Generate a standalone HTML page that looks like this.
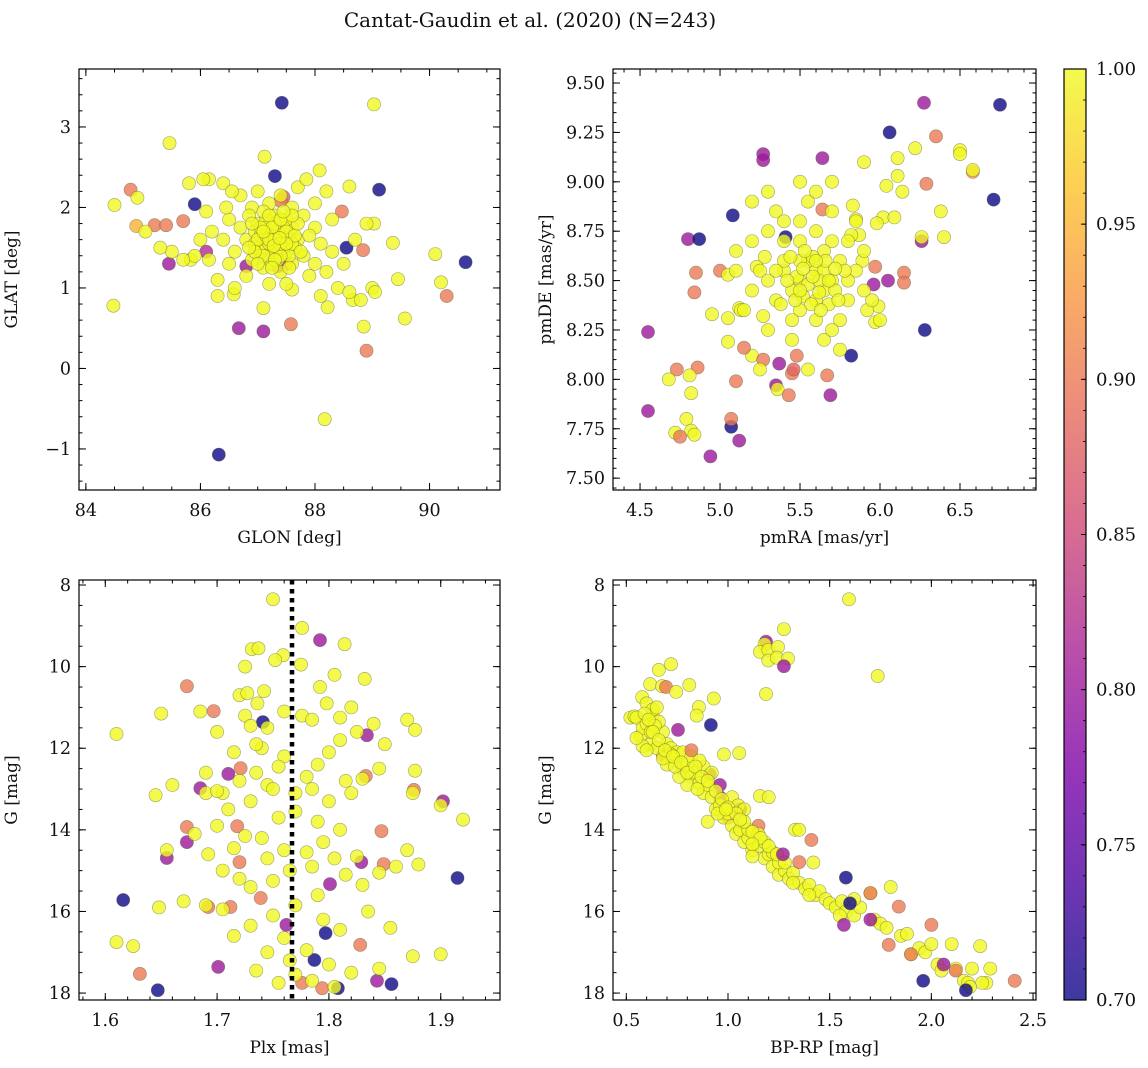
<!DOCTYPE html>
<html><head><meta charset="utf-8"><style>
html,body{margin:0;padding:0;background:#fff;}
svg{display:block;font-family:"DejaVu Serif","Liberation Serif",serif;}
</style></head><body>
<svg id="fig" width="1148" height="1068" viewBox="0 0 1148 1068" xmlns="http://www.w3.org/2000/svg">
<defs>
<linearGradient id="plasma" x1="0" y1="1" x2="0" y2="0">
<stop offset="0" stop-color="#0d0887"/><stop offset="0.125" stop-color="#4c02a1"/><stop offset="0.25" stop-color="#7e03a8"/><stop offset="0.375" stop-color="#a92395"/><stop offset="0.5" stop-color="#cc4778"/><stop offset="0.625" stop-color="#e56b5d"/><stop offset="0.75" stop-color="#f89441"/><stop offset="0.875" stop-color="#fdc328"/><stop offset="1" stop-color="#f0f921"/>
</linearGradient>
</defs>
<text x="530" y="27" font-size="20" text-anchor="middle" fill="#111">Cantat-Gaudin et al. (2020) (N=243)</text>
<g id="panels"></g>
<g>
<rect x="1064" y="69" width="22" height="931" fill="url(#plasma)" fill-opacity="0.8"/>
<rect x="1064" y="69" width="22" height="931" fill="none" stroke="#000" stroke-width="1.2"/>
<g id="cbticks"></g>
</g>
</svg>
<script>
// ---- data: [x, y, membership probability] ----
const p1Data = [
[87.42,3.30,.7],[89.03,3.28,1],[85.46,2.80,1],[84.78,2.22,.9],[89.12,2.22,.7],[84.9,2.12,1],[84.5,2.03,1],
[84.88,1.77,.95],[85.2,1.78,.9],[85.4,1.78,.9],[85.7,1.83,.9],[85.9,2.04,.7],[87.3,2.39,.7],[85.45,1.3,.8],
[84.48,0.78,1],[86.67,0.5,.8],[87.1,0.46,.8],[87.58,0.55,.9],[88.17,-0.63,1],[86.32,-1.07,.7],[88.9,0.22,.9],
[90.63,1.32,.7],[90.3,0.9,.9],[90.1,1.42,1],[90.2,1.07,1],[89.57,0.62,1],[89.0,1.0,1],[89.05,0.95,1],[88.85,0.52,1],
[88.84,1.47,.9],[88.55,1.5,.7],[88.47,1.95,.9],[88.6,2.26,1],[88.08,2.46,1],[89.03,1.8,1],[89.36,1.56,1],[89.45,1.11,1],
[88.66,0.85,1],[88.22,0.76,1],[88.1,0.9,1],[87.12,2.63,1],[86.15,2.35,1],[87.6,0.98,1],[87.1,0.75,1],[86.58,0.92,1],
[85.83,1.35,1],[85.04,1.7,1],[87.45,2.13,.87],[87.35,1.27,.8],[86.8,1.27,.8],[86.1,1.45,.82],[87.4,2.08,.9],[87.5,1.3,.82],
[87.0,1.5,1],[87.1,1.6,1],[87.2,1.7,1],[87.3,1.55,1],[87.4,1.65,1],[87.5,1.45,1],[87.6,1.75,1],[87.2,1.4,1],[87.0,1.8,1],
[86.9,1.35,1],[87.3,1.9,1],[87.5,1.85,1],[87.7,1.6,1],[87.8,1.4,1],[87.1,1.25,1],[87.4,1.2,1],[87.6,1.3,1],[86.8,1.6,1],
[86.7,1.75,1],[86.6,1.45,1],[86.9,2.0,1],[87.2,2.05,1],[87.6,2.0,1],[87.8,1.9,1],[88.0,1.75,1],[88.1,1.55,1],[88.0,1.3,1],
[87.9,1.15,1],[87.5,1.05,1],[87.2,1.05,1],[86.8,1.15,1],[86.5,1.3,1],[86.4,1.6,1],[86.5,1.85,1],[86.7,2.15,1],[87.0,2.2,1],
[87.4,2.15,1],[87.7,2.25,1],[88.0,2.05,1],[88.3,1.85,1],[88.3,1.45,1],[88.2,1.2,1],[88.4,1.0,1],[86.3,1.1,1],[86.2,1.7,1],
[86.1,1.95,1],[86.6,1.0,1],[86.3,0.9,1],[88.5,1.3,1],[88.7,1.6,1],[88.9,1.8,1],[87.05,1.45,1],[87.15,1.85,1],[87.35,1.35,1],
[87.45,1.75,1],[87.25,1.6,1],[86.95,1.7,1],[87.55,1.6,1],[87.65,1.5,1],[87.1,1.95,1],[86.85,1.9,1],[87.9,1.65,1],[86.4,2.3,1],
[85.9,1.4,1],[85.7,1.35,1],[86.0,1.6,1],[88.6,0.95,1],[88.8,0.85,1],[85.5,1.45,1],[85.3,1.5,1],[86.55,2.2,1],[86.45,2.0,1],
[87.85,2.35,1],[88.2,2.2,1],[85.8,2.3,1],[86.15,1.35,1],[86.05,2.35,1],[87.25,1.3,1],[87.45,1.5,1],[86.95,1.55,1],[87.15,1.75,1],
[87.05,1.65,1],[87.15,1.5,1],[87.25,1.45,1],[87.35,1.7,1],[87.3,1.8,1],[87.2,1.9,1],[87.45,1.6,1],[87.5,1.7,1],[87.55,1.4,1],
[87.35,1.5,1],[87.2,1.55,1],[87.1,1.4,1],[87.0,1.6,1],[86.95,1.45,1],[87.4,1.4,1],[87.3,1.35,1],[87.6,1.55,1],[87.65,1.65,1],
[87.15,1.65,1],[87.25,1.75,1],[87.4,1.85,1],[87.05,1.75,1],[87.3,1.6,1],[87.2,1.6,1],[87.4,1.55,1],[87.5,1.55,1],[87.1,1.7,1],
[86.9,1.8,1],[87.7,1.8,1],[87.6,1.9,1],[87.0,1.3,1],[87.75,1.45,1],[86.85,1.5,1],[87.25,1.25,1],[87.45,1.95,1],[87.55,1.25,1],
[87.28,1.52,1],[87.38,1.62,1]
];
const p2Data = [
[6.275,9.40,.8],[6.75,9.39,.7],[6.06,9.25,.7],[6.35,9.23,.9],[6.22,9.17,1],[6.5,9.16,1],[6.5,9.14,1],[6.58,9.05,.93],[6.58,9.06,1],
[6.71,8.91,.7],[6.29,8.99,.9],[5.90,9.10,1],[6.11,9.12,1],[6.11,9.03,1],[6.04,8.98,1],[6.14,8.95,1],[6.38,8.85,1],[6.40,8.72,1],
[6.26,8.70,.8],[6.26,8.72,1],[6.02,8.82,1],[5.98,8.79,1],[6.09,8.82,1],[5.83,8.88,1],[5.85,8.81,1],[5.87,8.73,1],[5.82,8.73,1],
[5.97,8.57,.9],[5.96,8.48,.8],[6.05,8.50,.8],[6.15,8.54,.9],[6.15,8.49,.9],[5.99,8.37,1],[5.92,8.35,1],[5.97,8.29,1],[6.28,8.25,.7],
[5.82,8.12,.7],[5.89,8.60,1],[5.64,9.12,.8],[5.64,8.86,.9],[5.27,9.14,.8],[5.27,9.11,.8],
[4.55,8.24,.8],[4.55,7.84,.8],[4.73,8.05,.9],[4.86,8.06,.9],[4.68,8.0,1],[4.81,8.02,1],[4.82,7.93,1],[4.79,7.8,1],[4.82,7.74,1],
[4.72,7.73,1],[4.84,7.72,1],[4.75,7.71,.9],[4.94,7.61,.8],[5.07,7.76,.7],[5.07,7.8,.9],[5.12,7.69,.8],[5.1,7.99,.9],[5.0,8.55,.9],
[5.05,8.53,1],[4.95,8.33,1],[5.05,8.31,1],[5.05,8.19,1],[5.12,8.36,1],[5.13,8.35,1],[5.2,8.12,1],[5.27,8.32,1],[5.23,8.57,1],
[5.15,8.16,.9],[5.27,8.1,.9],[5.45,8.03,.9],[5.37,8.08,.8],[5.35,7.97,.8],[5.36,7.95,1],[5.46,8.05,.88],[4.8,8.71,.8],[4.87,8.71,.7],
[5.08,8.83,.7],[4.85,8.54,.9],[4.84,8.44,.9],[5.41,8.72,.7],[5.67,8.02,.9],[5.69,7.92,.8],[5.43,7.92,.9],[5.48,8.12,.9],
[5.5,8.5,1],[5.6,8.55,1],[5.7,8.5,1],[5.55,8.6,1],[5.65,8.45,1],[5.45,8.45,1],[5.75,8.6,1],[5.4,8.55,1],[5.35,8.4,1],[5.5,8.35,1],
[5.6,8.3,1],[5.8,8.4,1],[5.85,8.55,1],[5.9,8.65,1],[5.7,8.7,1],[5.6,8.75,1],[5.5,8.7,1],[5.4,8.7,1],[5.3,8.75,1],[5.25,8.55,1],
[5.2,8.45,1],[5.15,8.35,1],[5.3,8.25,1],[5.45,8.2,1],[5.65,8.2,1],[5.75,8.3,1],[5.95,8.4,1],[6.0,8.3,1],[5.85,8.8,1],[5.7,8.85,1],
[5.55,8.9,1],[5.35,8.85,1],[5.2,8.7,1],[5.1,8.55,1],[5.4,8.6,1],[5.5,8.6,1],[5.65,8.65,1],[5.8,8.5,1],[5.3,8.5,1],[5.6,8.4,1],
[5.45,8.3,1],[5.2,8.9,1],[5.3,8.95,1],[5.5,8.8,1],[5.5,9.0,1],[5.6,8.95,1],[5.7,9.0,1],[5.4,8.8,1],[5.8,8.7,1],[5.9,8.45,1],
[5.65,8.55,1],[5.55,8.48,1],[5.48,8.52,1],[5.58,8.62,1],[5.68,8.38,1],[5.38,8.38,1],[5.28,8.62,1],[5.75,8.15,1],[5.7,8.25,1],
[5.55,8.05,1],[5.25,8.05,1],[5.1,8.65,1],[5.72,8.45,1],[5.62,8.5,1],[5.52,8.42,1],[5.42,8.5,1],[5.78,8.55,1],
[5.58,8.52,1],[5.62,8.44,1],[5.66,8.6,1],[5.52,8.56,1],[5.47,8.4,1],[5.57,8.38,1],[5.72,8.56,1],[5.63,8.35,1],[5.53,8.65,1],
[5.44,8.62,1],[5.35,8.55,1],[5.68,8.5,1],[5.74,8.4,1],[5.6,8.6,1],[5.5,8.45,1]
];
const p3Data = [
[1.616,15.72,.7],[1.647,17.93,.7],[1.741,11.36,.7],[1.787,17.19,.7],[1.808,17.88,.7],[1.856,17.78,.7],[1.915,15.18,.7],[1.797,16.53,.7],
[1.792,9.35,.8],[1.834,11.68,.8],[1.710,12.63,.8],[1.685,12.98,.8],[1.673,14.3,.8],[1.655,14.69,.8],[1.701,17.36,.8],[1.902,13.3,.8],
[1.829,14.79,.8],[1.801,15.33,.8],[1.762,16.33,.8],[1.843,17.7,.8],
[1.673,10.48,.9],[1.697,11.09,.9],[1.673,13.93,.9],[1.721,12.49,.9],[1.718,13.91,.9],[1.72,14.79,.9],[1.692,15.89,.9],[1.712,15.89,.9],
[1.739,15.67,.9],[1.847,14.03,.9],[1.828,16.82,.9],[1.833,12.68,.9],[1.849,14.84,.9],[1.631,17.53,.9],[1.776,17.75,.9],[1.794,17.88,.9],[1.876,13.02,.9],
[1.75,8.35,1],[1.776,9.05,1],[1.814,9.45,1],[1.731,9.57,1],[1.737,9.55,1],[1.759,9.72,1],[1.752,9.84,1],[1.725,10.0,1],[1.775,9.95,1],
[1.805,10.2,1],[1.792,10.5,1],[1.798,10.9,1],[1.776,11.2,1],[1.72,10.7,1],[1.727,10.65,1],[1.742,10.6,1],[1.736,10.9,1],[1.61,11.65,1],
[1.65,11.15,1],[1.685,11.1,1],[1.725,11.2,1],[1.73,11.45,1],[1.745,11.5,1],[1.76,11.1,1],[1.785,11.3,1],[1.81,11.25,1],[1.82,11.0,1],
[1.832,10.3,1],[1.825,11.6,1],[1.84,11.4,1],[1.85,11.9,1],[1.87,11.3,1],[1.877,11.55,1],[1.81,11.8,1],[1.8,12.1,1],[1.79,12.4,1],
[1.78,12.7,1],[1.76,12.2,1],[1.74,12.0,1],[1.755,12.45,1],[1.735,12.6,1],[1.745,12.9,1],[1.72,12.8,1],[1.705,13.1,1],[1.69,13.1,1],
[1.66,12.9,1],[1.645,13.15,1],[1.7,13.05,1],[1.73,13.3,1],[1.75,13.0,1],[1.77,13.1,1],[1.785,13.0,1],[1.8,13.3,1],[1.82,13.1,1],
[1.815,12.8,1],[1.83,12.75,1],[1.845,12.5,1],[1.877,12.55,1],[1.9,13.4,1],[1.875,13.1,1],[1.71,13.5,1],[1.7,13.9,1],[1.725,14.15,1],
[1.74,14.2,1],[1.755,13.7,1],[1.77,13.55,1],[1.79,13.8,1],[1.81,14.0,1],[1.795,14.3,1],[1.78,14.55,1],[1.76,14.5,1],[1.745,14.7,1],
[1.715,14.45,1],[1.655,14.5,1],[1.692,14.6,1],[1.705,15.0,1],[1.72,15.2,1],[1.73,15.4,1],[1.75,15.25,1],[1.765,15.0,1],[1.785,14.9,1],
[1.805,14.7,1],[1.825,14.65,1],[1.815,15.1,1],[1.83,15.35,1],[1.845,15.05,1],[1.86,14.9,1],[1.87,14.5,1],[1.88,14.85,1],[1.92,13.75,1],
[1.79,15.6,1],[1.77,15.85,1],[1.75,16.1,1],[1.73,16.35,1],[1.715,16.6,1],[1.705,15.95,1],[1.69,15.85,1],[1.67,15.75,1],[1.648,15.9,1],
[1.61,16.75,1],[1.625,16.85,1],[1.795,16.2,1],[1.81,16.45,1],[1.835,16.0,1],[1.855,16.4,1],[1.875,17.1,1],[1.9,17.05,1],[1.76,16.65,1],
[1.745,17.0,1],[1.735,17.45,1],[1.765,17.2,1],[1.78,16.95,1],[1.8,17.3,1],[1.82,17.5,1],[1.845,17.4,1],[1.755,17.75,1],[1.785,17.7,1],
[1.805,17.85,1],[1.77,17.55,1],[1.69,12.6,1],[1.68,14.1,1],[1.7,11.6,1],[1.715,12.1,1],[1.735,11.9,1]
];
const p4Data = [
[1.595,8.35,1],[1.275,9.08,1],[1.187,9.39,.8],[1.18,9.45,1],[1.157,9.64,1],[1.198,9.59,1],[1.246,9.52,1],[1.198,9.85,1],[1.24,9.78,1],
[1.295,9.8,1],[1.275,9.99,.8],[1.736,10.23,1],[1.187,10.67,1],[0.916,11.43,.7],[0.754,11.55,.8],[1.055,12.12,1],[1.157,13.17,1],[1.33,14.0,1],
[0.72,9.94,1],[0.66,10.08,1],[0.617,10.43,1],[0.676,10.48,1],[0.695,10.5,.9],[0.81,10.45,1],[0.745,10.62,1],[0.578,10.75,1],[0.93,10.78,1],
[0.857,10.99,1],[0.846,11.2,1],[0.52,11.25,1],[0.54,11.22,1],[0.68,12.17,.9],[0.91,12.64,.8],[0.96,12.9,.8],[0.96,13.2,.8],[1.06,13.5,.8],
[1.0,13.7,.9],[1.15,13.9,.9],[1.41,14.25,.9],
[0.55,11.25,1],[0.57,11.7,1],[0.58,11.5,1],[0.6,11.4,1],[0.62,11.9,1],[0.63,11.2,1],[0.6,10.9,1],[0.63,11.05,1],[0.65,11.0,1],
[0.68,11.6,1],[0.7,11.9,1],[0.72,12.0,1],[0.74,12.3,1],[0.75,12.1,1],[0.78,12.5,1],[0.8,12.4,1],[0.82,12.7,1],[0.8,12.9,1],[0.84,12.6,1],
[0.86,12.85,1],[0.88,13.1,1],[0.9,12.9,1],[0.92,13.2,1],[0.94,13.5,1],[0.96,13.4,1],[0.98,13.7,1],[1.0,13.6,1],[1.02,13.9,1],[1.04,14.1,1],
[1.06,14.0,1],[1.08,14.3,1],[1.1,14.2,1],[1.12,14.5,1],[1.15,14.4,1],[1.18,14.7,1],[1.2,14.6,1],[1.22,14.9,1],[1.25,15.1,1],[1.28,15.0,1],
[1.3,15.2,1],[1.32,15.05,1],[1.35,15.3,1],[1.38,15.45,1],[1.4,15.35,1],[1.43,15.6,1],[1.45,15.5,1],[1.48,15.7,1],[1.5,15.8,1],[1.53,15.9,1],
[1.56,15.75,1],[1.58,16.0,1],[1.62,16.1,1],[1.65,15.9,1],[1.7,15.55,1],[1.72,16.2,1],[1.75,16.3,1],[1.78,16.4,1],[1.8,15.4,1],[1.85,16.6,1],
[1.88,16.55,1],[1.9,17.05,1],[1.94,16.9,1],[1.97,17.0,1],[2.0,16.8,1],[2.03,17.3,1],[2.05,17.45,1],[2.1,16.8,1],[2.12,17.4,1],[2.16,17.7,1],
[2.18,17.75,1],[2.2,17.4,1],[2.24,16.85,1],[2.27,17.75,1],[2.29,17.4,1],[2.25,17.75,1],[2.19,17.85,1],[0.72,12.15,1],[0.7,12.4,1],[0.65,12.0,1],
[0.58,11.95,1],[0.68,12.25,1],[0.76,12.7,1],[0.85,13.0,1],[0.9,13.8,1],[0.95,13.6,1],[1.02,13.2,1],[1.05,13.4,1],[1.1,14.0,1],[1.15,14.1,1],
[1.2,13.2,1],[1.25,14.8,1],[1.35,14.0,1],[1.42,14.8,1],[1.22,14.55,1],[1.32,15.3,1],[1.4,15.6,1],[1.55,16.1,1],[1.62,15.7,1],[0.98,12.15,1],
[0.6,12.05,1],[0.55,11.75,1],[0.66,11.35,1],[0.78,12.1,1],[0.82,12.2,1],[0.88,12.45,1],[0.92,12.6,1],[1.08,13.5,1],[1.12,14.65,1],[1.18,14.3,1],
[0.62,11.6,1],[0.64,11.45,1],[0.59,11.15,1],[0.74,12.45,1],[0.86,12.3,1],
[0.61,11.3,1],[0.63,11.6,1],[0.66,11.8,1],[0.69,12.05,1],[0.73,12.2,1],[0.77,12.35,1],[0.8,12.6,1],[0.84,12.45,1],[0.87,12.7,1],[0.9,12.8,1],
[0.94,13.05,1],[0.97,13.25,1],[1.0,13.45,1],[1.04,13.6,1],[1.08,13.8,1],[1.12,14.05,1],[1.16,14.2,1],[1.2,14.4,1],[1.24,14.6,1],[1.28,14.8,1],
[1.12,14.35,1],[1.06,13.75,1],[0.99,13.5,1],
[1.58,15.17,.7],[1.6,15.8,.7],[1.96,17.7,.7],[2.17,17.93,.7],[1.57,16.33,.8],[1.7,16.2,.8],[2.06,17.3,.8],[1.27,14.6,.8],
[1.35,14.79,.9],[1.7,15.55,.9],[1.79,16.82,.9],[1.84,15.88,.9],[2.0,16.33,.9],[2.41,17.7,.9],[2.12,17.45,.9],[1.9,17.05,.9],[0.82,12.05,.9]
];
const p1XTicks = [84,86,88,90], p1YTicks = [-1,0,1,2,3];
const p2XTicks = [4.5,5.0,5.5,6.0,6.5], p2YTicks = [7.5,7.75,8.0,8.25,8.5,8.75,9.0,9.25,9.5];
const p3XTicks = [1.6,1.7,1.8,1.9], p34YTicks = [8,10,12,14,16,18];
const p4XTicks = [0.5,1.0,1.5,2.0,2.5];
const cbTicks = [0.70,0.75,0.80,0.85,0.90,0.95,1.00];
const plxLine = 1.767;

const NS='http://www.w3.org/2000/svg';
function mk(tag, attrs, parent){const e=document.createElementNS(NS,tag);for(const k in attrs)e.setAttribute(k,attrs[k]);parent.appendChild(e);return e;}
const stops=[[0,[13,8,135]],[.125,[76,2,161]],[.25,[126,3,168]],[.375,[169,35,149]],[.5,[204,71,120]],[.625,[229,107,93]],[.75,[248,148,65]],[.875,[253,195,40]],[1,[240,249,33]]];
function plasma(t){t=Math.max(0,Math.min(1,t));for(let i=1;i<stops.length;i++){if(t<=stops[i][0]){const a=stops[i-1],b=stops[i],f=(t-a[0])/(b[0]-a[0]);return 'rgb('+a[1].map((v,j)=>Math.round(v+(b[1][j]-v)*f)).join(',')+')';}}return 'rgb(240,249,33)';}

const panels=[
 {name:'glon-glat',x0:79,x1:500,y0:69,y1:490,xd:[83.88,91.23],yd:[-1.51,3.72],xt:p1XTicks,yt:p1YTicks,xm:0.5,ym:0.2,xf:v=>v.toFixed(0),yf:v=>v<0?'\u2212'+Math.abs(v):String(v),xl:'GLON [deg]',yl:'GLAT [deg]',data:p1Data,inv:false},
 {name:'pmra-pmde',x0:613,x1:1036,y0:69,y1:490,xd:[4.331,6.975],yd:[7.44,9.571],xt:p2XTicks,yt:p2YTicks,xm:0.1,ym:0.05,xf:v=>v.toFixed(1),yf:v=>v.toFixed(2),xl:'pmRA [mas/yr]',yl:'pmDE [mas/yr]',data:p2Data,inv:false},
 {name:'plx-g',x0:79,x1:500,y0:580,y1:1000,xd:[1.5765,1.953],yd:[7.877,18.17],xt:p3XTicks,yt:p34YTicks,xm:0.02,ym:0.5,xf:v=>v.toFixed(1),yf:v=>String(v),xl:'Plx [mas]',yl:'G [mag]',data:p3Data,inv:true},
 {name:'bprp-g',x0:613,x1:1036,y0:580,y1:1000,xd:[0.4346,2.5145],yd:[7.877,18.17],xt:p4XTicks,yt:p34YTicks,xm:0.1,ym:0.5,xf:v=>v.toFixed(1),yf:v=>String(v),xl:'BP-RP [mag]',yl:'G [mag]',data:p4Data,inv:true}
];
const root=document.getElementById('panels');
panels.forEach(P=>{
 const g=mk('g',{},root);
 
 
 const sx=v=>P.x0+(v-P.xd[0])/(P.xd[1]-P.xd[0])*(P.x1-P.x0);
 const sy=v=>P.inv? P.y0+(v-P.yd[0])/(P.yd[1]-P.yd[0])*(P.y1-P.y0) : P.y1-(v-P.yd[0])/(P.yd[1]-P.yd[0])*(P.y1-P.y0);
 const pts=mk('g',{},g);
 
 
 P.data.forEach(d=>{
  const c=mk('circle',{cx:sx(d[0]).toFixed(1),cy:sy(d[1]).toFixed(1),r:6.6,fill:plasma((d[2]-0.7)/0.3),'fill-opacity':0.8,stroke:'rgba(90,90,60,0.55)','stroke-width':0.6},pts);
  
  
 });
 if(P.name==='plx-g'){
  const l=mk('line',{x1:sx(plxLine),x2:sx(plxLine),y1:P.y0,y2:P.y1,stroke:'#000','stroke-width':4.5,'stroke-dasharray':'4.5,4.5'},g);
  
  
 }
 mk('rect',{x:P.x0,y:P.y0,width:P.x1-P.x0,height:P.y1-P.y0,fill:'none',stroke:'#000','stroke-width':1.2},g);
 const tk=mk('g',{stroke:'#000','stroke-width':1},g);
 for(let v=Math.ceil(P.xd[0]/P.xm)*P.xm; v<=P.xd[1]; v+=P.xm){const x=sx(v);mk('line',{x1:x,x2:x,y1:P.y1,y2:P.y1-3.5},tk);mk('line',{x1:x,x2:x,y1:P.y0,y2:P.y0+3.5},tk);}
 for(let v=Math.ceil(P.yd[0]/P.ym)*P.ym; v<=P.yd[1]; v+=P.ym){const y=sy(v);mk('line',{x1:P.x0,x2:P.x0+3.5,y1:y,y2:y},tk);mk('line',{x1:P.x1,x2:P.x1-3.5,y1:y,y2:y},tk);}
 P.xt.forEach(v=>{const x=sx(v);mk('line',{x1:x,x2:x,y1:P.y1,y2:P.y1-7},tk);mk('line',{x1:x,x2:x,y1:P.y0,y2:P.y0+7},tk);
  const t=mk('text',{x:x,y:P.y1+26,'font-size':17.5,'text-anchor':'middle',fill:'#111'},g);t.textContent=P.xf(v);
  
  });
 P.yt.forEach(v=>{const y=sy(v);mk('line',{x1:P.x0,x2:P.x0+7,y1:y,y2:y},tk);mk('line',{x1:P.x1,x2:P.x1-7,y1:y,y2:y},tk);
  const t=mk('text',{x:P.x0-8,y:y+6,'font-size':17.5,'text-anchor':'end',fill:'#111'},g);t.textContent=P.yf(v);
  
  });
 const xl=mk('text',{x:(P.x0+P.x1)/2,y:P.y1+53,'font-size':17,'text-anchor':'middle',fill:'#111'},g);xl.textContent=P.xl;
 
 
 const lx=P.x0-62, ly=(P.y0+P.y1)/2;
 const yl=mk('text',{x:lx,y:ly,'font-size':17,'text-anchor':'middle',fill:'#111',transform:'rotate(-90 '+lx+' '+ly+')'},g);yl.textContent=P.yl;
 
 
});
const cb=document.getElementById('cbticks');
cbTicks.forEach(v=>{const y=1000-(v-0.7)/0.3*931;
 mk('line',{x1:1086,x2:1081,y1:y,y2:y,stroke:'#000','stroke-width':1},cb);
 const t=mk('text',{x:1096,y:y+6,'font-size':18,fill:'#111'},cb);t.textContent=v.toFixed(2);
 
 });
for(let v=0.71; v<1.0; v+=0.01){const y=1000-(v-0.7)/0.3*931; mk('line',{x1:1086,x2:1083,y1:y,y2:y,stroke:'#000','stroke-width':0.8},cb);}
</script>
</body></html>
